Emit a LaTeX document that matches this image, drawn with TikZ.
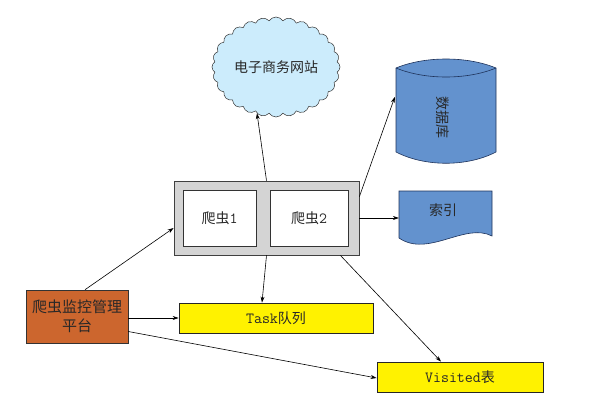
\documentclass[tikz,border=0pt]{standalone}
\usepackage{fontspec}
\newfontfamily\cjk{Noto Sans CJK SC}
\newcommand{\latx}[1]{{\fontsize{15.5}{17}\selectfont\ttfamily #1}}
\usetikzlibrary{shapes.symbols,arrows.meta,calc}
\definecolor{cloudblue}{RGB}{204,236,252}
\definecolor{dbblue}{RGB}{99,146,206}
\definecolor{dbline}{RGB}{30,50,90}
\definecolor{rust}{RGB}{204,102,46}
\definecolor{crawlgray}{RGB}{212,212,212}
\definecolor{txt}{RGB}{40,40,40}
\begin{document}
\begin{tikzpicture}[x=1pt,y=-1pt,
  every node/.style={text=txt,font=\fontsize{14}{17}\selectfont,inner sep=0pt},
  arr/.style={-{Stealth[length=6pt,width=4pt]},line width=0.6pt,black},
  cell/.style={draw=black!80,fill=white,line width=0.6pt,minimum height=56pt},
  yel/.style={draw=black!85,fill=yellow,line width=0.8pt,minimum height=30pt}]
\useasboundingbox (0,0) rectangle (600,405);
% cloud
\node[cloud,cloud puffs=28,cloud puff arc=115,cloud ignores aspect,draw=black!80,fill=cloudblue,
  line width=0.5pt,minimum width=128pt,minimum height=100pt] (cloud) at (276,67) {\cjk 电子商务网站};
% database cylinder
\node[minimum width=100pt,minimum height=96pt] (db) at (446,112) {};
\draw[fill=dbblue,draw=dbline,line width=0.6pt]
  (396,68) .. controls (425,56) and (467,56) .. (496,68) -- (496,152)
  .. controls (467,167) and (425,167) .. (396,152) -- cycle;
\draw[draw=dbline,line width=0.6pt] (396,68) .. controls (425,80) and (467,80) .. (496,68);
\node[rotate=-90] (dbt) at (443,117) {\cjk 数据库};
% index document
\node[minimum width=93pt,minimum height=46pt] (idx) at (445.5,214) {};
\draw[fill=dbblue,draw=dbline,line width=0.6pt]
  (399,191) -- (492,191) -- (492,236) .. controls (465,222) and (428,258) .. (399,238) -- cycle;
\node (idxt) at (443,210) {\cjk 索引};
% crawler group
\node[draw=black!75,fill=crawlgray,line width=0.8pt,minimum width=185pt,minimum height=74pt] (crawler) at (266.5,218) {};
\node[cell,minimum width=73pt] (c1) at (219.5,218) {{\cjk 爬虫}\latx{1}};
\node[cell,minimum width=78pt] (c2) at (309,218) {{\cjk 爬虫}\latx{2}};
% monitor
\node[draw=black!80,fill=rust,line width=0.6pt,minimum width=102pt,minimum height=53pt,align=center,
  font=\fontsize{15}{19}\selectfont] (mon) at (77,316.5) {\cjk 爬虫监控管理\\\cjk 平台};
% queues
\node[yel,minimum width=194pt] (task) at (276,318) {\latx{Task}{\cjk 队列}};
\node[yel,minimum width=166pt] (vis) at (460,377) {\latx{Visited}{\cjk 表}};
% connectors
\draw[arr] ($(mon.north)+(8,0)$) -- ($(crawler.west)+(0,10)$);
\draw[arr] (crawler.north) -- ($(cloud.south)+(-19,-4)$);
\draw[arr] ($(crawler.north east)+(0,16)$) -- ($(db.west)+(-1,-15)$);
\draw[arr] (crawler.east) -- ($(idx.west)+(0,4)$);
\draw[arr] (crawler.south) -- ($(task.north)+(-14,0)$);
\draw[arr] ($(mon.east)+(0,1.5)$) -- (task.west);
\draw[arr] ($(mon.east)+(0,15)$) -- ($(vis.west)+(0,1)$);
\draw[arr] ($(crawler.south east)+(-19,0)$) -- ($(vis.north)+(-19,0)$);
\end{tikzpicture}
\end{document}
